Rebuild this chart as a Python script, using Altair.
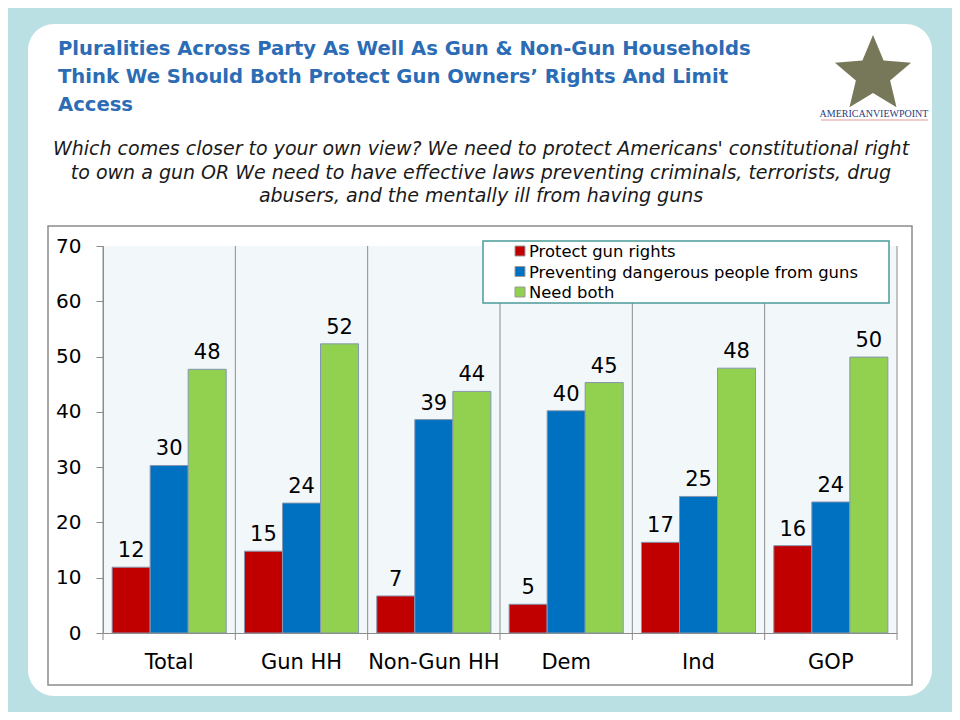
import altair as alt
import pandas as pd

# ---------------- data ----------------
categories = ["Total", "Gun HH", "Non-Gun HH", "Dem", "Ind", "GOP"]
series = ["Protect gun rights", "Preventing dangerous people from guns", "Need both"]
protect_vals = [11.9, 14.8, 6.7, 5.2, 16.4, 15.8]
prevent_vals = [30.3, 23.5, 38.6, 40.2, 24.7, 23.7]
both_vals = [47.7, 52.3, 43.7, 45.3, 47.9, 49.9]
protect_lbls = ["12", "15", "7", "5", "17", "16"]
prevent_lbls = ["30", "24", "39", "40", "25", "24"]
both_lbls = ["48", "52", "44", "45", "48", "50"]
colors = ["#c00000", "#0070c0", "#92d050"]
y_ticks = [0, 10, 20, 30, 40, 50, 60, 70]
title_lines = [
    "Pluralities Across Party As Well As Gun & Non-Gun Households",
    "Think We Should Both Protect Gun Owners\u2019 Rights And Limit",
    "Access",
]
subtitle_lines = [
    "Which comes closer to your own view? We need to protect Americans' constitutional right",
    "to own a gun OR We need to have effective  laws preventing criminals, terrorists, drug",
    "abusers, and the mentally ill from having guns",
]
logo_text = "AMERICANVIEWPOINT"

rows = []
for s, vals, lbls in zip(series, [protect_vals, prevent_vals, both_vals],
                         [protect_lbls, prevent_lbls, both_lbls]):
    for c, v, l in zip(categories, vals, lbls):
        rows.append({"cat": c, "series": s, "value": v, "label": l})
df = pd.DataFrame(rows)
cat_df = pd.DataFrame({"cat": categories})

# ---------------- layout ----------------
FONT = "DejaVu Sans"
W, H = 794, 387
OX, OY = 103, 246  # page position of plot origin


def px(x):
    return x - OX


def py(y):
    return y - OY


ONE = alt.Data(values=[{"k": 0}])
GRAY = "#8c8c8c"

x_axis = alt.Axis(title=None, labelAngle=0, labelFontSize=21, labelFont=FONT,
                  labelColor="black", labelPadding=18, ticks=False, grid=False,
                  domainColor=GRAY, domainWidth=1, zindex=1)
y_axis = alt.Axis(title=None, values=y_ticks, labelFontSize=20, labelFont=FONT,
                  labelColor="black", labelPadding=15, tickSize=7, tickColor=GRAY,
                  domainColor=GRAY, grid=False, zindex=1)
x_scale = alt.Scale(paddingInner=0, paddingOuter=0)
y_enc = alt.Y("value:Q", scale=alt.Scale(domain=[0, 70]), axis=y_axis)
xoff = alt.XOffset("series:N", sort=series,
                   scale=alt.Scale(paddingOuter=0.24, paddingInner=0))

panel = alt.Chart(ONE).mark_rect(fill="white", cornerRadius=26).encode(
    x=alt.value(px(28)), x2=alt.value(px(932)), y=alt.value(py(24)), y2=alt.value(py(696)))
frame = alt.Chart(ONE).mark_rect(fill="white", stroke=GRAY, strokeWidth=1.5).encode(
    x=alt.value(px(48)), x2=alt.value(px(912)), y=alt.value(py(226)), y2=alt.value(py(685)))
plotbg = alt.Chart(ONE).mark_rect(fill="#f2f7fa").encode(
    x=alt.value(0), x2=alt.value(W), y=alt.value(0), y2=alt.value(H))

seps = alt.Chart(cat_df).mark_rule(color=GRAY, strokeWidth=1).encode(
    x=alt.X("cat:N", sort=categories, bandPosition=0, scale=x_scale, axis=x_axis),
    y=alt.value(0), y2=alt.value(H + 7))
right_sep = alt.Chart(ONE).mark_rule(color=GRAY, strokeWidth=1).encode(
    x=alt.value(W), y=alt.value(0), y2=alt.value(H + 7))

bars = alt.Chart(df).mark_bar(stroke="#8497b0", strokeWidth=1).encode(
    x=alt.X("cat:N", sort=categories, scale=x_scale, axis=x_axis),
    xOffset=xoff,
    y=y_enc,
    color=alt.Color("series:N", scale=alt.Scale(domain=series, range=colors), legend=None),
)
labels = alt.Chart(df).mark_text(dy=-10, baseline="alphabetic", fontSize=21, font=FONT,
                                 color="black").encode(
    x=alt.X("cat:N", sort=categories, scale=x_scale, axis=x_axis),
    xOffset=xoff,
    y=y_enc,
    text="label:N",
)

legend_box = alt.Chart(ONE).mark_rect(fill="white", stroke="#4a9b9b", strokeWidth=1.5).encode(
    x=alt.value(px(483)), x2=alt.value(px(889)), y=alt.value(py(241)), y2=alt.value(py(303)))
legend_layers = []
for i, (s, col) in enumerate(zip(series, colors)):
    yy = py(251) + 20.5 * i
    legend_layers.append(
        alt.Chart(ONE).mark_square(size=100, filled=True, fill=col, stroke="#9a9a9a",
                                   strokeWidth=1, opacity=1).encode(
            x=alt.value(px(520)), y=alt.value(yy)))
    legend_layers.append(
        alt.Chart(ONE).mark_text(text=s, align="left", baseline="middle", fontSize=16.4,
                                 font=FONT, color="black").encode(
            x=alt.value(px(529)), y=alt.value(yy + 1)))

title = alt.Chart(ONE).mark_text(text=title_lines, font=FONT, fontSize=19.6, fontWeight="bold",
                                 color="#2b6cb5", align="left", baseline="alphabetic",
                                 lineHeight=28).encode(
    x=alt.value(px(58)), y=alt.value(py(55)))
subtitle = alt.Chart(ONE).mark_text(text=subtitle_lines, font=FONT, fontSize=19,
                                    fontStyle="italic", color="#1a1a1a", align="center",
                                    baseline="alphabetic", lineHeight=23.5).encode(
    x=alt.value(px(481)), y=alt.value(py(155)))

STAR = ("M0,-1L0.2645,-0.3641L0.9511,-0.309L0.428,0.1391L0.5878,0.809L0,0.45"
        "L-0.5878,0.809L-0.428,0.1391L-0.9511,-0.309L-0.2645,-0.3641Z")
star = alt.Chart(ONE).mark_point(shape=STAR, size=6400, filled=True, fill="#77775a",
                                 strokeWidth=0, opacity=1).encode(
    x=alt.value(px(873)), y=alt.value(py(75)))
logo = alt.Chart(ONE).mark_text(text=logo_text, font="Liberation Serif", fontSize=10,
                                color="#2a3b7c", align="center", baseline="alphabetic").encode(
    x=alt.value(px(874)), y=alt.value(py(117)))
logo_line = alt.Chart(ONE).mark_rule(color="#e09a9a", strokeWidth=1).encode(
    x=alt.value(px(821)), x2=alt.value(px(928)), y=alt.value(py(120)))

chart = alt.layer(
    panel, frame, plotbg, seps, right_sep, bars, labels, legend_box, *legend_layers,
    title, subtitle, star, logo, logo_line,
).properties(
    width=W, height=H,
    autosize=alt.AutoSizeParams(type="none"),
    padding={"left": 95, "top": 238, "right": 55, "bottom": 79},
    background="#bae0e3",
).configure_view(stroke=None)

chart.save("out.html", embed_options={"renderer": "svg", "actions": False})
